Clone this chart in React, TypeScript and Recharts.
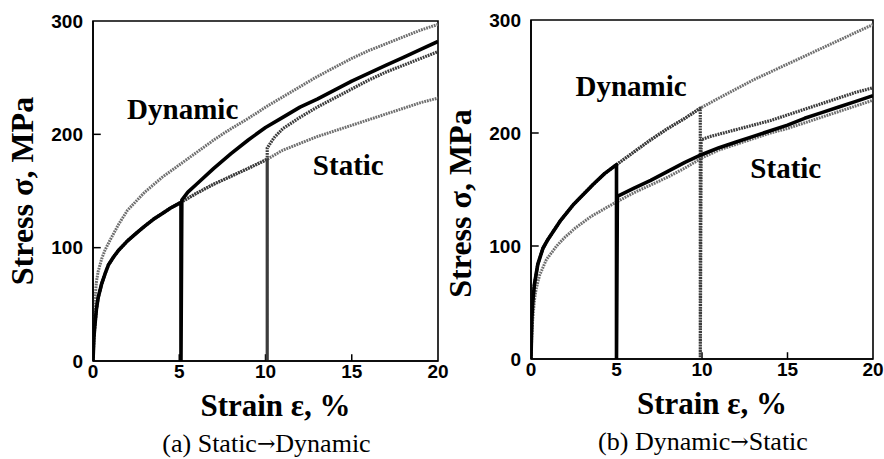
import {
  LineChart,
  Line,
  XAxis,
  YAxis,
  ReferenceArea,
  ReferenceLine,
  ReferenceDot,
  Label,
} from "recharts"

const serif = '"Liberation Serif", "Times New Roman", serif'
const sans = '"Liberation Sans", Arial, Helvetica, sans-serif'

const xTicks = [0, 5, 10, 15, 20]
const yTicks = [0, 100, 200, 300]

// (a) Static -> Dynamic
const aStaticStrain = [0, 0.05, 0.1, 0.2, 0.3, 0.5, 0.7, 0.9, 1.2, 1.5, 2, 2.6, 3, 3.5, 4, 4.5, 5.1, 6, 7, 8, 9, 10.1, 11, 12, 13, 14, 15, 16, 17, 18, 19, 20]
const aStaticStress = [0, 20, 30, 46, 56, 68, 77, 85, 92, 98, 106, 114, 119, 125, 130, 135, 140, 148, 156, 163, 170, 178, 186, 192, 198, 203, 208, 213, 218, 223, 228, 232]

const aDynamicStrain = [0, 0.05, 0.1, 0.2, 0.3, 0.5, 0.7, 1, 1.5, 2, 3, 4, 5, 6, 7, 8, 9, 10, 11, 12, 13, 14, 15, 16, 17, 18, 19, 20]
const aDynamicStress = [0, 35, 52, 70, 79, 90, 98, 107, 121, 133, 149, 162, 173, 184, 195, 205, 214, 224, 233, 242, 251, 259, 267, 274, 280, 286, 292, 297]

// switch at 5 %: unload, reload, then dynamic
const aSwitch5Strain = [5.1, 5.15, 5.5, 6, 7, 8, 9, 10, 11, 12, 13, 14, 15, 16, 17, 18, 19, 20]
const aSwitch5Stress = [0, 142, 149, 156, 170, 183, 195, 206, 215, 224, 231, 239, 247, 254, 261, 268, 275, 282]

// switch at 10 %
const aSwitch10Strain = [10.1, 10.1, 10.5, 11, 12, 13, 14, 15, 16, 17, 18, 19, 20]
const aSwitch10Stress = [0, 188, 197, 205, 215, 224, 232, 240, 248, 255, 261, 267, 273]

// (b) Dynamic -> Static
const bDynamicStrain = [0, 0.05, 0.1, 0.2, 0.4, 0.7, 1, 1.7, 2.5, 3.6, 4.3, 5, 6, 7, 8, 9, 9.9, 11, 12, 13, 14, 15, 16, 17, 18, 19, 20]
const bDynamicStress = [0, 36, 50, 66, 84, 98, 106, 122, 137, 154, 164, 172, 183, 194, 204, 213, 222, 231, 239, 247, 254, 261, 268, 275, 282, 289, 296]

const bStaticStrain = [0, 0.05, 0.1, 0.2, 0.3, 0.5, 0.9, 1.5, 2, 2.6, 3.5, 4.3, 5, 6, 7, 8, 9, 10, 11, 12, 13, 14, 15, 16, 17, 18, 19, 20]
const bStaticStress = [0, 22, 35, 52, 62, 74, 88, 100, 108, 116, 126, 133, 139, 147, 154, 161, 169, 178, 185, 190, 195, 200, 204, 209, 214, 219, 224, 229]

const bSwitch5Strain = [5, 5.05, 6, 7, 8, 9, 10, 11, 12, 13, 14, 15, 16, 17, 18, 19, 20]
const bSwitch5Stress = [0, 144, 151, 158, 166, 174, 181, 187, 192, 197, 202, 207, 213, 218, 223, 228, 233]

const bSwitch10Strain = [9.9, 9.95, 10.5, 11, 12, 13, 14, 15, 16, 17, 18, 19, 20]
const bSwitch10Stress = [0, 194, 197, 199, 203, 207, 211, 216, 221, 226, 231, 236, 240]

type Pt = { strain: number; stress: number }
const zip = (s: number[], t: number[]): Pt[] => s.map((v, i) => ({ strain: v, stress: t[i] }))
const upTo = (pts: Pt[], limit: number) => pts.filter((p) => p.strain <= limit)

const aStatic = zip(aStaticStrain, aStaticStress)
const aDynamic = zip(aDynamicStrain, aDynamicStress)
const aSwitch5 = [...upTo(aStatic, 5.1), ...zip(aSwitch5Strain, aSwitch5Stress)]
const aSwitch10 = [...upTo(aStatic, 10.1), ...zip(aSwitch10Strain, aSwitch10Stress)]

const bDynamic = zip(bDynamicStrain, bDynamicStress)
const bStatic = zip(bStaticStrain, bStaticStress)
const bSwitch5 = [...upTo(bDynamic, 5), ...zip(bSwitch5Strain, bSwitch5Stress)]
const bSwitch10 = [...upTo(bDynamic, 9.9), ...zip(bSwitch10Strain, bSwitch10Stress)]

const grayDots = { stroke: "#6f6f6f", strokeWidth: 3, strokeDasharray: "1.8 0.9" }
const darkDots = { stroke: "#3c3c3c", strokeWidth: 3.2, strokeDasharray: "1.8 0.9" }
const solid = { stroke: "#000", strokeWidth: 3.6 }

type Curve = { key: string; data: Pt[]; style: Record<string, any> }
type Note = { text: string; x: number; y: number }

interface PanelProps {
  width: number
  left: number
  margin: { top: number; right: number; bottom: number; left: number }
  yAxisWidth: number
  curves: Curve[]
  notes: Note[]
  subtitle: [string, string]
  yTitleShift: number
}

function Panel({ width, left, margin, yAxisWidth, curves, notes, subtitle, yTitleShift }: PanelProps) {
  return (
    <div style={{ position: "absolute", left, top: 0 }}>
      <LineChart width={width} height={459} margin={margin}>
        <XAxis
          type="number"
          dataKey="strain"
          domain={[0, 20]}
          ticks={xTicks}
          allowDataOverflow
          height={30}
          axisLine={{ stroke: "#000", strokeWidth: 1.6 }}
          tickLine={false}
          tickSize={0}
          tickMargin={4}
          tick={{ fill: "#000", fontSize: 19, fontWeight: "bold", fontFamily: sans }}
          label={{
            content: (props: any) => {
              const vb = props.viewBox
              const cx = vb.x + vb.width / 2
              return (
                <g>
                  <text x={cx + 10} y={vb.y + 44} textAnchor="middle" dominantBaseline="central"
                    fontFamily={serif} fontWeight="bold" fontSize={31} fill="#000">
                    Strain ε, %
                  </text>
                  <text x={cx + 1} y={vb.y + 82} textAnchor="middle" dominantBaseline="central"
                    fontFamily={serif} fontSize={26} fill="#000">
                    {subtitle[0]}
                    <tspan fontFamily='"DejaVu Serif", serif' fontSize={22}>→</tspan>
                    {subtitle[1]}
                  </text>
                </g>
              )
            },
          }}
        />
        <YAxis
          type="number"
          domain={[0, 300]}
          ticks={yTicks}
          allowDataOverflow
          width={yAxisWidth}
          axisLine={{ stroke: "#000", strokeWidth: 1.6 }}
          tickLine={false}
          tickSize={0}
          tickMargin={10}
          tick={{ fill: "#000", fontSize: 19, fontWeight: "bold", fontFamily: sans }}
          label={{
            content: (props: any) => {
              const vb = props.viewBox
              const cx = vb.x + 22 + (yAxisWidth - 93)
              const cy = vb.y + vb.height / 2 + yTitleShift
              return (
                <text x={cx} y={cy} transform={`rotate(-90 ${cx} ${cy})`} textAnchor="middle"
                  dominantBaseline="central" fontFamily={serif} fontWeight="bold" fontSize={32} fill="#000">
                  Stress σ, MPa
                </text>
              )
            },
          }}
        />
        <ReferenceArea x1={0} x2={20} y1={0} y2={300} fill="none" fillOpacity={0} stroke="#000" strokeWidth={1.6} />
        {[100, 200].map((v) => (
          <ReferenceLine key={"y" + v} segment={[{ x: 0, y: v }, { x: 0.45, y: v }]} stroke="#000" strokeWidth={1.5} />
        ))}
        {[5, 10, 15].map((v) => (
          <ReferenceLine key={"x" + v} segment={[{ x: v, y: 0 }, { x: v, y: 6 }]} stroke="#000" strokeWidth={1.5} />
        ))}
        {curves.map((c) => (
          <Line
            key={c.key}
            data={c.data}
            dataKey="stress"
            type="linear"
            dot={false}
            activeDot={false}
            strokeLinejoin="round"
            isAnimationActive={false}
            {...c.style}
          />
        ))}
        {notes.map((n) => (
          <ReferenceDot key={n.text} x={n.x} y={n.y} r={0} fill="none" stroke="none">
            <Label value={n.text} position="center" fill="#000" fontSize={29} fontWeight="bold" fontFamily={serif} />
          </ReferenceDot>
        ))}
      </LineChart>
    </div>
  )
}

export default function App() {
  return (
    <div style={{ position: "absolute", left: 0, top: 0, width: 884, height: 459, background: "#fff", overflow: "hidden" }}>
      <Panel
        width={450}
        left={0}
        margin={{ top: 21, right: 12, bottom: 68, left: 0 }}
        yAxisWidth={93}
        yTitleShift={0}
        subtitle={["(a) Static", "Dynamic"]}
        curves={[
          { key: "aStatic", data: aStatic, style: grayDots },
          { key: "aDynamic", data: aDynamic, style: grayDots },
          { key: "aSwitch10", data: aSwitch10, style: darkDots },
          { key: "aSwitch5", data: aSwitch5, style: solid },
        ]}
        notes={[
          { text: "Dynamic", x: 5.2, y: 223 },
          { text: "Static", x: 14.8, y: 173 },
        ]}
      />
      <Panel
        width={444}
        left={440}
        margin={{ top: 20, right: 11, bottom: 70, left: 0 }}
        yAxisWidth={91}
        yTitleShift={14}
        subtitle={["(b) Dynamic", "Static"]}
        curves={[
          { key: "bStatic", data: bStatic, style: grayDots },
          { key: "bDynamic", data: bDynamic, style: grayDots },
          { key: "bSwitch10", data: bSwitch10, style: darkDots },
          { key: "bSwitch5", data: bSwitch5, style: solid },
        ]}
        notes={[
          { text: "Dynamic", x: 5.85, y: 242 },
          { text: "Static", x: 14.9, y: 169 },
        ]}
      />
    </div>
  )
}
